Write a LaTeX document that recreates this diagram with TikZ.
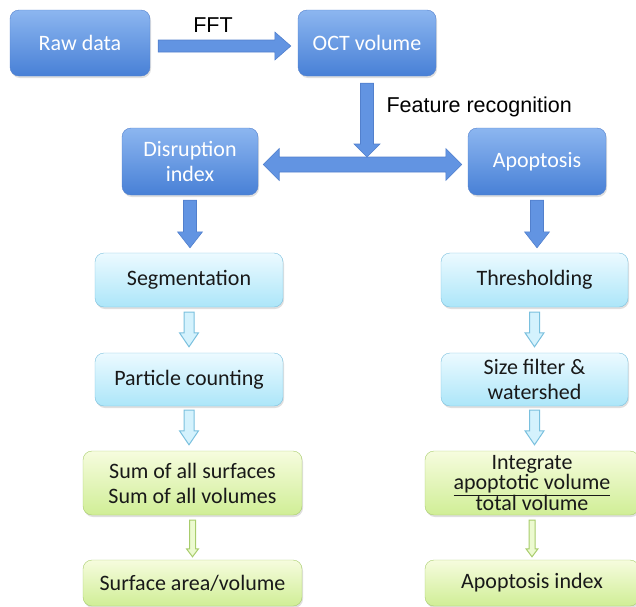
\documentclass[tikz,border=0pt]{standalone}
\usepackage{fontspec}
\setmainfont{Carlito}
\newfontfamily\arialfont{Liberation Sans}
\usetikzlibrary{calc,shadows}
\definecolor{bluetop}{RGB}{140,182,240}
\definecolor{bluebot}{RGB}{72,128,214}
\definecolor{blueedge}{RGB}{82,128,205}
\definecolor{bluefill}{RGB}{98,148,226}
\definecolor{cyantop}{RGB}{236,250,255}
\definecolor{cyanbot}{RGB}{172,230,249}
\definecolor{cyanedge}{RGB}{122,192,222}
\definecolor{cyanfill}{RGB}{212,242,253}
\definecolor{greentop}{RGB}{246,252,222}
\definecolor{greenbot}{RGB}{208,238,150}
\definecolor{greenedge}{RGB}{168,204,108}
\definecolor{greenfill}{RGB}{236,250,208}
\definecolor{inktext}{RGB}{25,25,25}

\begin{document}
\begin{tikzpicture}[x=1pt, y=-1pt,
    font=\fontsize{22}{25}\selectfont,
    box/.style={rounded corners=9pt, align=center, inner sep=0pt,
      drop shadow={shadow xshift=1pt, shadow yshift=-2pt, opacity=0.25}},
    topbox/.style={box, top color=bluetop, bottom color=bluebot, draw=blueedge,
      text=white, minimum width=138pt, minimum height=66pt},
    midbox/.style={box, top color=cyantop, bottom color=cyanbot, draw=cyanedge,
      text=inktext, minimum width=188pt, minimum height=54pt},
    lowbox/.style={box, top color=greentop, bottom color=greenbot, draw=greenedge,
      text=inktext, minimum width=219pt, minimum height=64pt},
    label/.style={font=\arialfont\fontsize{21.5}{24}\selectfont},
    % block arrows built from the two end points
    downarrow/.style n args={3}{to path={let \p1=(\tikztostart), \p2=(\tikztotarget) in
      (\x1-#1,\y1) -- (\x1-#1,\y2+#3) -- (\x1-#2,\y2+#3) -- (\x1,\y2)
      -- (\x1+#2,\y2+#3) -- (\x1+#1,\y2+#3) -- (\x1+#1,\y1) -- cycle}},
    rightarrow/.style n args={3}{to path={let \p1=(\tikztostart), \p2=(\tikztotarget) in
      (\x1,\y1+#1) -- (\x2-#3,\y1+#1) -- (\x2-#3,\y1+#2) -- (\x2,\y1)
      -- (\x2-#3,\y1-#2) -- (\x2-#3,\y1-#1) -- (\x1,\y1-#1) -- cycle}},
    twowayarrow/.style n args={3}{to path={let \p1=(\tikztostart), \p2=(\tikztotarget) in
      (\x1,\y1) -- (\x1+#3,\y1+#2) -- (\x1+#3,\y1+#1) -- (\x2-#3,\y1+#1)
      -- (\x2-#3,\y1+#2) -- (\x2,\y1) -- (\x2-#3,\y1-#2) -- (\x2-#3,\y1-#1)
      -- (\x1+#3,\y1-#1) -- (\x1+#3,\y1-#2) -- cycle}},
    bluearrow/.style={fill=bluefill, draw=blueedge, line width=0.6pt},
    cyanarrow/.style={fill=cyanfill, draw=cyanedge, line width=1pt, downarrow={5pt}{9.5pt}{14pt}},
    greenarrow/.style={fill=greenfill, draw=greenedge, line width=1pt, downarrow={3pt}{6pt}{8pt}}]

  \useasboundingbox (0,0) rectangle (636,606);
  \clip (0,0) rectangle (636,606);

  % Top row
  \node[topbox, minimum width=140pt] (raw) at (80,43) {Raw data};
  \node[topbox] (oct) at (367,43) {OCT volume};
  \path[bluearrow, rightarrow={6pt}{14pt}{16pt}]
    ([xshift=8pt,yshift=-3pt]raw.east) to ([xshift=-7pt,yshift=-3pt]oct.west);
  \node[label] (fft) at (213,25) {FFT};

  % Split into the two branches
  \node[topbox, minimum width=136pt, minimum height=67pt] (dis) at (190,161.5) {Disruption\\index};
  \node[topbox, minimum height=67pt] (apo) at (537,161.5) {Apoptosis};
  \path[bluearrow, twowayarrow={7.5pt}{16pt}{16pt}]
    ([xshift=5pt,yshift=-3pt]dis.east) to ([xshift=-6pt,yshift=-3pt]apo.west);
  \coordinate (split) at (368,157);
  \path[bluearrow, downarrow={6.5pt}{13pt}{13pt}] ([yshift=-7pt]oct.south) to (split);
  \node[label, anchor=west] (feat) at (383,107) {Feature recognition};

  % Left branch
  \node[midbox] (seg) at (189,280) {Segmentation};
  \node[midbox, minimum height=53pt] (par) at (189,379.5) {Particle counting};
  \node[lowbox] (sum) at (192.5,483) {Sum of all surfaces\\Sum of all volumes};
  \node[lowbox, minimum height=46pt] (sur) at (192.5,583) {Surface area/volume};
  \path[bluearrow, downarrow={6.5pt}{12.5pt}{16pt}] ([yshift=-5pt]dis.south) to ([yshift=5pt]seg.north);
  \path[cyanarrow] ([yshift=-5pt]seg.south) to ([yshift=6pt]par.north);
  \path[cyanarrow] ([yshift=-4pt]par.south) to ([yshift=6pt]sum.north);
  \path[greenarrow] ([yshift=-5pt]sum.south) to ([yshift=3pt]sur.north);

  % Right branch
  \node[midbox, minimum width=187pt] (thr) at (534.5,280) {Thresholding};
  \node[midbox, minimum width=187pt, minimum height=53pt] (siz) at (534.5,379.5) {Size filter \&\\watershed};
  \node[lowbox, minimum width=214pt, font=\fontsize{22}{20.5}\selectfont] (int) at (532,483)
    {Integrate\\\underline{apoptotic volume}\\[-1pt]total volume};
  \node[lowbox, minimum width=214pt, minimum height=46pt] (idx) at (532,583) {Apoptosis index};
  \path[bluearrow, downarrow={6.5pt}{12.5pt}{16pt}] ([yshift=-5pt]apo.south) to ([yshift=5pt]thr.north);
  \path[cyanarrow] ([yshift=-5pt]thr.south) to ([yshift=6pt]siz.north);
  \path[cyanarrow] ([yshift=-4pt]siz.south) to ([yshift=6pt]int.north);
  \path[greenarrow] ([yshift=-5pt]int.south) to ([yshift=3pt]idx.north);
\end{tikzpicture}
\end{document}
